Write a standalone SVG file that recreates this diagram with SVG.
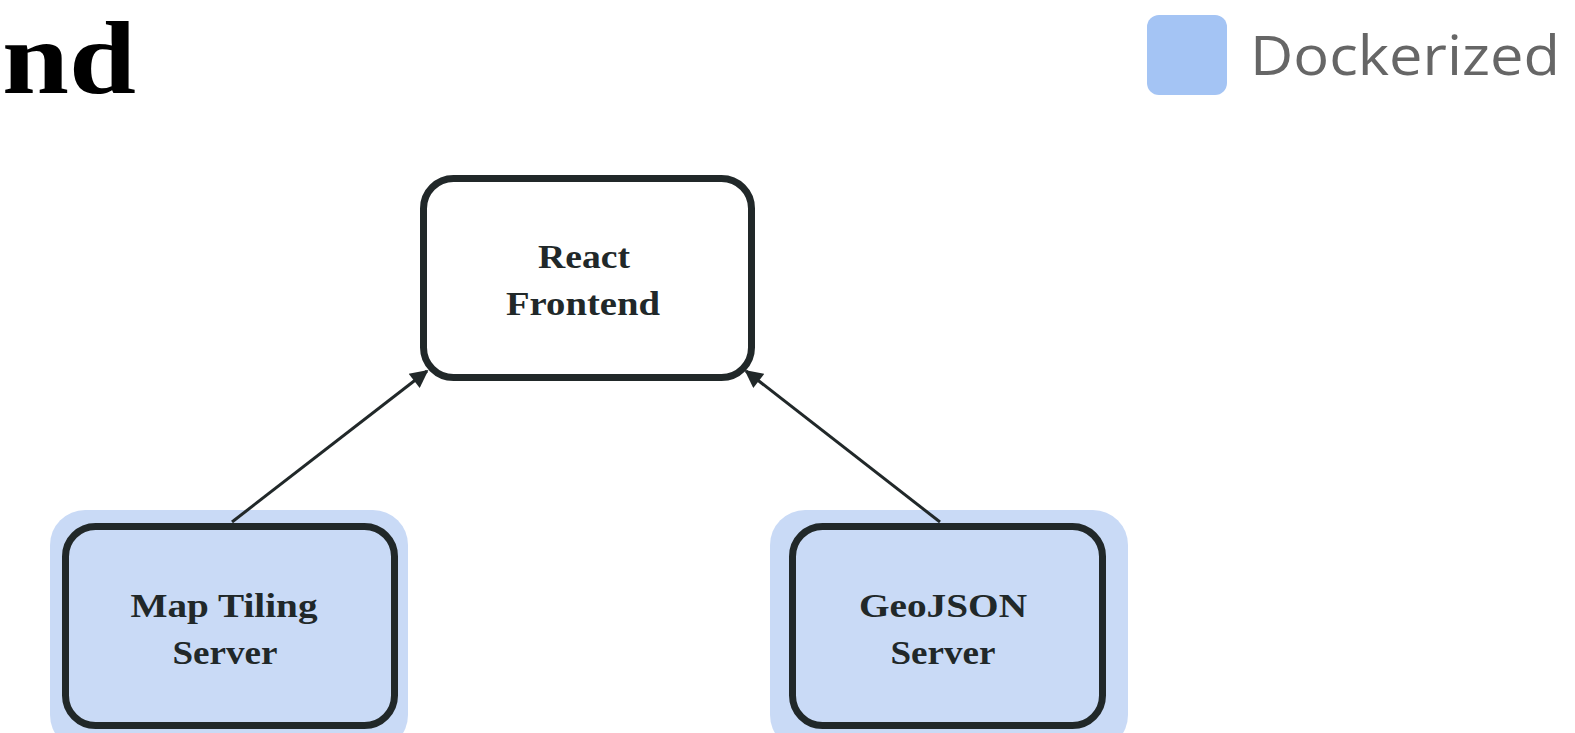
<svg xmlns="http://www.w3.org/2000/svg" width="1575" height="733" viewBox="0 0 1575 733">
<style>
.node{stroke:#212829;stroke-width:7;}
.lbl{font-family:"Liberation Serif",serif;font-weight:bold;font-size:33px;fill:#212829;text-anchor:middle;}
.dock{fill:#c9daf6;}
.edge{stroke:#212829;stroke-width:3;fill:none;marker-end:url(#ah);}
</style>
<defs>
<marker id="ah" viewBox="0 0 10 10" refX="9" refY="5" markerWidth="7.5" markerHeight="6" orient="auto" markerUnits="strokeWidth">
<path d="M0,0 L10,5 L0,10 z" fill="#212829"/>
</marker>
</defs>
<rect width="1575" height="733" fill="#ffffff"/>
<g id="title">
<text x="2" y="93" font-family="Liberation Serif,serif" font-weight="bold" font-size="104" fill="#000" textLength="134" lengthAdjust="spacingAndGlyphs">nd</text>
</g>
<g id="legend">
<rect x="1147" y="15" width="80" height="80" rx="12" fill="#a4c4f4"/>
<text x="1250" y="75" font-family="Open Sans,sans-serif" font-size="54" fill="#666666" textLength="310" lengthAdjust="spacingAndGlyphs">Dockerized</text>
</g>
<g id="react-frontend">
<rect class="node" x="423.5" y="178.5" width="328" height="199" rx="30" fill="#ffffff"/>
<text class="lbl" x="584" y="268" textLength="92" lengthAdjust="spacingAndGlyphs">React</text>
<text class="lbl" x="583" y="315" textLength="154" lengthAdjust="spacingAndGlyphs">Frontend</text>
</g>
<g id="map-tiling-server">
<rect class="dock" x="50" y="510" width="358" height="240" rx="35"/>
<rect class="node" x="65.5" y="526.5" width="329" height="199" rx="30" fill="#c9daf6"/>
<text class="lbl" x="224" y="617" textLength="187" lengthAdjust="spacingAndGlyphs">Map Tiling</text>
<text class="lbl" x="225" y="664" textLength="105" lengthAdjust="spacingAndGlyphs">Server</text>
</g>
<g id="geojson-server">
<rect class="dock" x="770" y="510" width="358" height="240" rx="35"/>
<rect class="node" x="792.5" y="526.5" width="310" height="199" rx="30" fill="#c9daf6"/>
<text class="lbl" x="943" y="617" textLength="168" lengthAdjust="spacingAndGlyphs">GeoJSON</text>
<text class="lbl" x="943" y="664" textLength="105" lengthAdjust="spacingAndGlyphs">Server</text>
</g>
<g id="connectors">
<line class="edge" x1="232" y1="522" x2="427" y2="371"/>
<line class="edge" x1="940" y1="522" x2="746" y2="371"/>
</g>
</svg>
